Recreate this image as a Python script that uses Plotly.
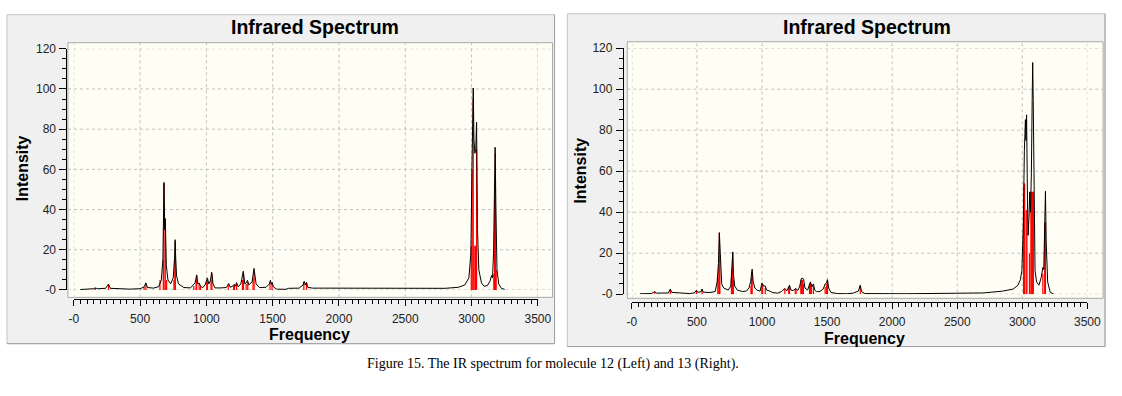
import plotly.graph_objects as go

# ---------------- data ----------------
X_TICKS = [0, 500, 1000, 1500, 2000, 2500, 3000, 3500]
Y_TICKS = [0, 20, 40, 60, 80, 100, 120]

# Molecule 12 (left) - broadened spectrum (black)
left_curve_freq = [50, 100, 150, 161, 180, 240, 262, 275, 350, 420, 500, 530, 544, 555, 600, 640,
                   660, 672, 680, 686, 690, 698, 710, 730, 750, 760, 764, 768, 775, 790, 830, 880,
                   905, 915, 927, 935, 945, 955, 970, 990, 1008, 1018, 1030, 1040, 1050, 1065, 1110,
                   1150, 1169, 1180, 1200, 1211, 1218, 1228, 1240, 1260, 1278, 1290, 1300, 1310, 1320,
                   1345, 1359, 1365, 1375, 1400, 1450, 1475, 1483, 1490, 1496, 1505, 1530, 1600, 1620,
                   1700, 1730, 1738, 1746, 1755, 1765, 1800, 2000, 2040, 2300, 2600, 2800, 2900, 2950,
                   2980, 2995, 3003, 3008, 3013, 3018, 3025, 3032, 3038, 3045, 3055, 3075, 3095, 3120,
                   3140, 3151, 3158, 3166, 3172, 3178, 3184, 3192, 3205, 3225, 3250]
left_curve_int = [0.2, 0.3, 0.6, 1.0, 0.6, 0.8, 2.9, 0.8, 0.6, 0.4, 0.6, 1.5, 3.5, 1.2, 0.9, 1.6,
                  5, 15, 53.5, 30, 35.5, 12, 5, 3, 6, 16, 25, 17, 7, 3, 1.2, 1.0,
                  2.5, 3.5, 7.5, 3, 3.5, 2, 1, 2.5, 6, 3, 4.5, 8.8, 3, 1, 1.0,
                  1.2, 3.2, 1.3, 2, 2.8, 1.8, 3.6, 1.6, 3, 9.3, 3, 3.5, 4.8, 2.5,
                  4, 10.7, 7, 3, 1.2, 1.3, 3, 4.8, 2.8, 3.8, 1.5, 0.4, 0.3, 0.8,
                  0.9, 2.5, 4.3, 2.4, 3.8, 1.3, 0.9, 0.9, 0.7, 0.6, 0.6, 0.8, 1.3, 2.5,
                  6, 18, 60, 86, 100.5, 75, 68, 70, 83.5, 30, 10, 3.5, 1.8, 2.2,
                  4.5, 7.2, 6, 18, 46, 71, 40, 10, 3, 0.8, 0.3]

# Molecule 12 (left) - stick spectrum (red)
left_stick_freq = [162, 262, 530, 544, 650, 675, 680, 690, 700, 755, 762, 766, 905, 922, 927, 945,
                   955, 1003, 1008, 1035, 1042, 1165, 1205, 1212, 1228, 1272, 1280, 1300, 1312,
                   1352, 1360, 1480, 1495, 1735, 1755, 2998, 3005, 3013, 3020, 3030, 3038,
                   3168, 3174, 3180, 3186]
left_stick_int = [1, 2.5, 1.5, 3, 5, 15, 53, 33, 5, 5, 15, 24, 2, 5, 7, 3,
                  2, 4, 5, 5, 8, 2.5, 2, 2.5, 3, 5, 8, 3, 4,
                  6, 9, 4, 3, 4, 3.5, 22, 60, 95, 22, 22, 70,
                  8, 45, 68, 10]

# Molecule 13 (right) - broadened spectrum (black)
right_curve_freq = [63, 150, 176, 190, 280, 295, 305, 380, 440, 480, 496, 505, 530, 539, 548, 600,
                    640, 655, 665, 672, 676, 682, 690, 705, 740, 760, 768, 775, 780, 790, 810, 850,
                    880, 900, 912, 924, 932, 945, 960, 985, 1000, 1010, 1025, 1035, 1060, 1080, 1120,
                    1150, 1175, 1190, 1211, 1222, 1240, 1260, 1275, 1290, 1300, 1307, 1320, 1330,
                    1350, 1365, 1372, 1382, 1395, 1405, 1420, 1445, 1470, 1485, 1495, 1503, 1512,
                    1530, 1580, 1650, 1700, 1740, 1755, 1765, 1790, 2100, 2500, 2700, 2850, 2930,
                    2966, 2985, 2997, 3008, 3016, 3024, 3028, 3033, 3040, 3045, 3052, 3057, 3063,
                    3070, 3076, 3080, 3084, 3090, 3098, 3110, 3128, 3145, 3158, 3165, 3172, 3178,
                    3184, 3195, 3215, 3240]
right_curve_int = [0.2, 0.3, 1.3, 0.5, 0.6, 2.5, 0.9, 0.6, 0.3, 0.6, 1.9, 0.9, 1.2, 2.5, 1, 0.8,
                   1.3, 6, 15, 30, 24, 10, 5, 3, 2, 4, 12, 20.6, 10, 4, 2, 1.3,
                   1.5, 3, 6, 12.2, 6, 3, 2, 1.5, 5.5, 4, 4, 2, 1.5, 0.8, 0.5,
                   1.3, 2.8, 1.6, 4.4, 2, 1.8, 2.8, 1.8, 4, 7.3, 7.9, 7.3, 3,
                   2, 5, 6, 3.5, 5, 2, 1.2, 1.3, 2.5, 5, 5.5, 7.1, 3,
                   0.8, 0.3, 0.2, 0.5, 1.5, 4.4, 1.2, 0.3, 0.2, 0.4, 0.6, 1.5, 2.5,
                   4.3, 7, 11.5, 35, 70, 85.2, 75, 87.5, 45, 28.7, 38, 49.9, 40,
                   60, 95, 113, 94.6, 40, 11.5, 6, 4.4, 8, 13, 12, 30, 50.2,
                   25, 6, 0.8, 0.2]

# Molecule 13 (right) - stick spectrum (red)
right_stick_freq = [176, 295, 496, 539, 660, 668, 672, 676, 765, 772, 775, 780, 915, 920, 924, 998,
                    1005, 1025, 1175, 1205, 1211, 1255, 1262, 1298, 1303, 1312, 1318, 1365, 1372,
                    1380, 1395, 1485, 1495, 1503, 1755, 3010, 3014, 3018, 3030, 3036, 3055, 3066,
                    3072, 3078, 3085, 3158, 3172, 3178]
right_stick_int = [1, 2, 1.8, 2.2, 8, 14, 30, 19, 8, 13, 20.6, 7, 4, 8, 11, 4,
                   5, 3, 2.5, 3, 4, 2.5, 2.5, 5, 7, 7, 5, 5, 5.5,
                   5, 4, 3.5, 5, 6.5, 4, 40, 54, 54, 41, 41, 20, 50,
                   50, 50, 50, 10, 35, 35]

TITLE = "Infrared Spectrum"
X_TITLE = "Frequency"
Y_TITLE = "Intensity"
CAPTION = "Figure 15. The IR spectrum for molecule 12 (Left) and 13 (Right)."

# ---------------- layout helpers (pixel -> paper) ----------------
W, H = 1122, 396


def PX(px):
    return px / W


def PY(py):
    return 1 - py / H


def sticks(freqs, ints):
    xs, ys = [], []
    for f, v in zip(freqs, ints):
        xs += [f, f, None]
        ys += [0, v, None]
    return xs, ys


fig = go.Figure()

panels = [
    dict(xa="x", ya="y", cf=left_curve_freq, ci=left_curve_int, sf=left_stick_freq, si=left_stick_int),
    dict(xa="x2", ya="y2", cf=right_curve_freq, ci=right_curve_int, sf=right_stick_freq, si=right_stick_int),
]
for p in panels:
    sx, sy = sticks(p["sf"], p["si"])
    fig.add_trace(go.Scatter(x=sx, y=sy, mode="lines", line=dict(color="#ff0000", width=1.2),
                             xaxis=p["xa"], yaxis=p["ya"], hoverinfo="skip", showlegend=False))
    fig.add_trace(go.Scatter(x=p["cf"], y=p["ci"], mode="lines", line=dict(color="#000000", width=1),
                             xaxis=p["xa"], yaxis=p["ya"], showlegend=False))

# geometry of the two panels (pixels)
geo = [
    dict(frame=(2, 8, 559, 349), cream=(64, 37, 557, 301), xdom=(70, 542), ydom=(43.3, 293.3),
         xpos=302.5, ypos=62.5, title=(315.5, 21), xt=(310, 340), yt=(18, 167.5)),
    dict(frame=(572, 7, 1119, 352), cream=(633, 36, 1117, 302), xdom=(637.7, 1101), ydom=(42.7, 297.7),
         xpos=305.5, ypos=628.5, title=(877, 20.5), xt=(874.5, 343.5), yt=(585, 169.5)),
]

shapes = []
annotations = []
tickfont = dict(family="Arial, Liberation Sans, sans-serif", size=12, color="#222222")
boldfont = dict(family="Arial, Liberation Sans, sans-serif", size=16, color="#000000", weight="bold")

for i, g in enumerate(geo):
    x0, y0, x1, y1 = g["frame"]
    shapes.append(dict(type="rect", xref="paper", yref="paper", x0=PX(x0), x1=PX(x1), y0=PY(y1), y1=PY(y0),
                       fillcolor="#f0f0f0", line=dict(color="#c4c4c4", width=1), layer="below"))
    shapes.append(dict(type="line", xref="paper", yref="paper", x0=PX(x0), x1=PX(x1), y0=PY(y1), y1=PY(y1),
                       line=dict(color="#a0a0a0", width=1), layer="below"))
    shapes.append(dict(type="line", xref="paper", yref="paper", x0=PX(x1), x1=PX(x1), y0=PY(y1), y1=PY(y0),
                       line=dict(color="#a0a0a0", width=1), layer="below"))
    cx0, cy0, cx1, cy1 = g["cream"]
    shapes.append(dict(type="rect", xref="paper", yref="paper", x0=PX(cx0), x1=PX(cx1), y0=PY(cy1), y1=PY(cy0),
                       fillcolor="#fffef4", line=dict(color="#a8a8a8", width=1), layer="below"))
    xr = "x" if i == 0 else "x2"
    yr = "y" if i == 0 else "y2"
    for t in X_TICKS:
        shapes.append(dict(type="line", xref=xr, yref="paper", x0=t, x1=t, y0=PY(cy1), y1=PY(cy0),
                           line=dict(color="#c0c0c0", width=1, dash="3px,3px"), layer="below"))
    for t in Y_TICKS:
        shapes.append(dict(type="line", xref="paper", yref=yr, x0=PX(cx0), x1=PX(cx1), y0=t, y1=t,
                           line=dict(color="#c0c0c0", width=1, dash="3px,3px"), layer="below"))

    annotations.append(dict(text=TITLE, xref="paper", yref="paper", x=PX(g["title"][0]), y=PY(g["title"][1]),
                            xanchor="center", yanchor="middle", showarrow=False,
                            font=dict(family="Arial, Liberation Sans, sans-serif", size=19.5, color="#000000",
                                      weight="bold")))
    annotations.append(dict(text=X_TITLE, xref="paper", yref="paper", x=PX(g["xt"][0]), y=PY(g["xt"][1]),
                            xanchor="center", yanchor="middle", showarrow=False, font=boldfont))
    annotations.append(dict(text=Y_TITLE, xref="paper", yref="paper", x=PX(g["yt"][0]), y=PY(g["yt"][1]),
                            xanchor="center", yanchor="middle", showarrow=False, textangle=-90, font=boldfont))

annotations.append(dict(text=CAPTION, xref="paper", yref="paper", x=PX(557.5), y=PY(370),
                        xanchor="center", yanchor="middle", showarrow=False,
                        font=dict(family="Times New Roman, Liberation Serif, serif", size=14, color="#000000")))


def xaxis_cfg(g):
    return dict(domain=[PX(g["xdom"][0]), PX(g["xdom"][1])], range=[0, 3500], anchor="free",
                position=PY(g["xpos"]), tickmode="linear", tick0=0, dtick=500, ticks="outside",
                ticklen=6, tickwidth=1, tickcolor="#000000", showline=True, linecolor="#000000",
                linewidth=1, showgrid=False, zeroline=False, tickfont=tickfont, labelalias={"0": "-0"},
                ticklabelstandoff=3,
                minor=dict(dtick=50, tick0=0, ticks="outside", ticklen=4, tickwidth=1, tickcolor="#000000",
                           showgrid=False),
                fixedrange=True)


def yaxis_cfg(g):
    return dict(domain=[PY(g["ydom"][1]), PY(g["ydom"][0])], range=[0, 120], anchor="free",
                position=PX(g["ypos"]), tickmode="linear", tick0=0, dtick=20, ticks="outside",
                ticklen=7, tickwidth=1, tickcolor="#000000", showline=True, linecolor="#000000",
                linewidth=1, showgrid=False, zeroline=False, tickfont=tickfont, labelalias={"0": "-0"},
                ticklabelstandoff=1,
                minor=dict(dtick=5, tick0=0, ticks="outside", ticklen=4, tickwidth=1, tickcolor="#000000",
                           showgrid=False),
                fixedrange=True)


fig.update_layout(
    width=W, height=H, margin=dict(l=0, r=0, t=0, b=0), autosize=False,
    paper_bgcolor="#ffffff", plot_bgcolor="rgba(0,0,0,0)",
    xaxis=xaxis_cfg(geo[0]), yaxis=yaxis_cfg(geo[0]),
    xaxis2=xaxis_cfg(geo[1]), yaxis2=yaxis_cfg(geo[1]),
    shapes=shapes, annotations=annotations, showlegend=False,
)

fig.write_html("out.html", config={"displayModeBar": False},
               post_script="document.body.style.margin='0';")
